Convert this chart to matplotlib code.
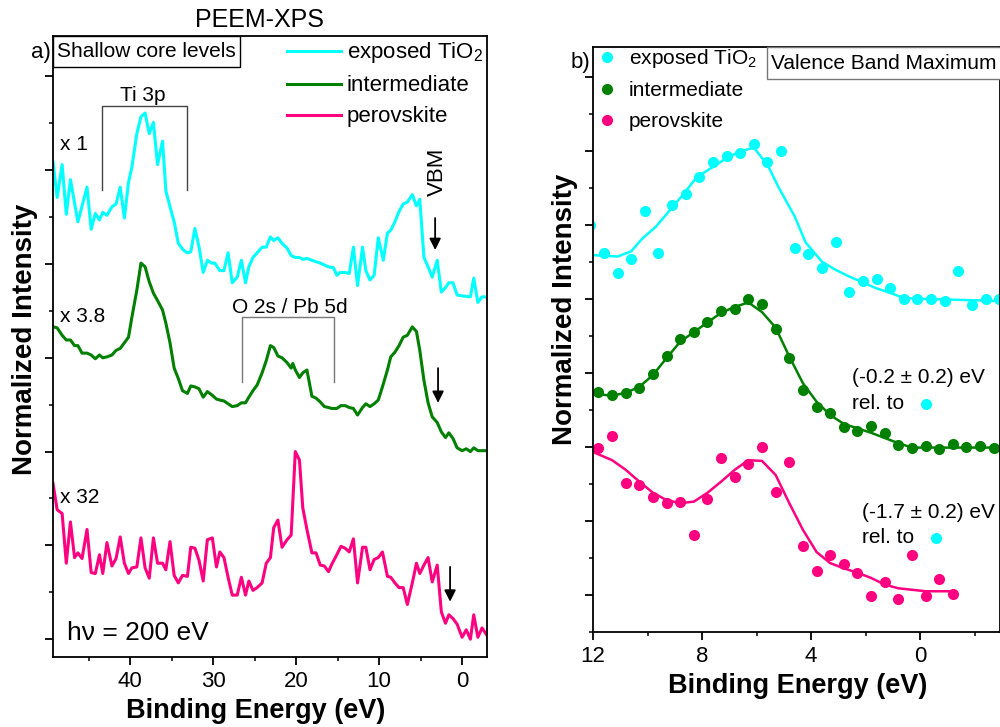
from matplotlib import pyplot as plt
from matplotlib.patches import Rectangle
from matplotlib.ticker import MultipleLocator

plt.rcParams['font.family'] = ['Liberation Sans', 'DejaVu Sans']
plt.rcParams['mathtext.fontset'] = 'custom'
plt.rcParams['mathtext.rm'] = 'Liberation Sans'
plt.rcParams['mathtext.it'] = 'Liberation Sans:italic'
plt.rcParams['mathtext.bf'] = 'Liberation Sans:bold'

CYAN = '#00FFFF'
GREEN = '#008000'
PINK = '#FF0080'

# ---- panel a) shallow core levels (binding energy in eV, offset intensity)
tio2_e = [49.3, 48.8, 48.2, 47.7, 47.2, 46.3, 45.2, 44.7, 44.2, 43.7, 43.3, 42.8, 42.2, 41.7, 41.2,
          40.7, 40.2, 39.8, 39.2, 38.7, 38.2, 37.7, 37.2, 36.7, 36.1, 35.7, 35.2, 34.7, 34.2, 33.6,
          33.1, 32.7, 32.2, 31.7, 31.2, 30.7, 30.2, 29.8, 29.2, 28.7, 28.2, 27.7, 27.1, 26.6, 26.1,
          25.7, 25.2, 24.1, 23.6, 23.1, 22.7, 22.2, 21.7, 21.1, 20.6, 20.1, 19.6, 19.2, 18.7, 18.1,
          17.1, 16.1, 15.5, 15.1, 14.7, 14.1, 13.6, 13.1, 12.6, 12.0, 11.6, 11.1, 10.6, 10.1, 9.5,
          9.0, 8.6, 8.1, 7.6, 7.1, 6.6, 6.0, 5.5, 5.1, 4.6, 4.1, 3.6, 3.0, 2.5, 2.0,
          1.6, 1.1, 0.6, 0.0, -1.0, -1.4, -1.9, -2.4, -3.0]
tio2_i = [5.09, 4.71, 5.06, 4.53, 4.90, 4.45, 4.82, 4.37, 4.54, 4.47, 4.55, 4.52, 4.61, 4.64, 4.82,
          4.49, 4.87, 5.03, 5.39, 5.57, 5.61, 5.39, 5.51, 5.06, 5.31, 4.78, 4.61, 4.45, 4.22, 4.15,
          4.12, 4.13, 4.38, 4.18, 3.91, 4.04, 4.01, 4.01, 3.93, 3.93, 4.12, 3.80, 3.86, 4.04, 3.80,
          3.97, 4.07, 4.18, 4.18, 4.29, 4.25, 4.28, 4.22, 4.17, 4.09, 4.07, 4.07, 4.05, 4.06, 4.04,
          4.01, 3.97, 3.96, 3.88, 3.91, 3.91, 3.90, 4.18, 3.77, 4.18, 3.93, 3.83, 3.88, 4.28, 4.04,
          4.33, 4.36, 4.45, 4.56, 4.64, 4.66, 4.74, 4.62, 4.69, 4.07, 3.97, 3.86, 4.04, 3.70, 3.75,
          3.80, 3.80, 3.67, 3.66, 3.65, 3.85, 3.59, 3.65, 3.65]

inter_e = [49.3, 48.8, 48.2, 47.7, 47.2, 46.7, 46.3, 45.8, 45.2, 44.7, 44.2, 43.7, 43.3, 42.8, 42.2,
           41.7, 41.2, 40.7, 40.2, 39.8, 39.2, 38.7, 38.2, 37.7, 37.2, 36.7, 36.1, 35.7, 35.2, 34.7,
           34.2, 33.7, 33.1, 32.7, 32.2, 31.7, 31.2, 30.7, 30.1, 29.6, 29.2, 28.7, 28.2, 27.7, 27.1,
           26.6, 26.1, 25.7, 25.2, 24.7, 24.1, 23.6, 23.1, 22.7, 22.2, 21.7, 21.1, 20.6, 20.4, 20.1,
           19.6, 19.2, 18.7, 18.1, 17.6, 17.1, 16.6, 16.1, 15.7, 15.1, 14.6, 14.1, 13.6, 13.1, 12.6,
           12.0, 11.6, 11.1, 10.6, 10.1, 9.6, 9.0, 8.6, 8.1, 7.6, 7.1, 6.6, 6.0, 5.5, 5.1,
           4.6, 4.1, 3.6, 3.0, 2.5, 2.0, 1.6, 1.1, 0.6, 0.0, -0.5, -1.0, -1.4, -1.9, -3.0]
inter_i = [3.33, 3.32, 3.24, 3.19, 3.19, 3.13, 3.13, 3.05, 3.05, 3.03, 2.99, 3.03, 3.00, 3.01, 3.03,
           3.08, 3.10, 3.16, 3.22, 3.43, 3.72, 4.01, 3.97, 3.81, 3.69, 3.61, 3.51, 3.37, 3.16, 2.89,
           2.78, 2.65, 2.62, 2.70, 2.69, 2.67, 2.58, 2.64, 2.60, 2.56, 2.55, 2.54, 2.51, 2.48, 2.49,
           2.52, 2.52, 2.58, 2.65, 2.71, 2.84, 2.97, 3.13, 3.11, 3.02, 3.00, 2.95, 2.89, 2.94, 2.87,
           2.79, 2.84, 2.87, 2.59, 2.57, 2.53, 2.48, 2.47, 2.46, 2.46, 2.49, 2.49, 2.47, 2.46, 2.39,
           2.47, 2.51, 2.48, 2.51, 2.55, 2.69, 2.87, 3.01, 3.06, 3.13, 3.22, 3.24, 3.33, 3.28, 3.08,
           2.76, 2.52, 2.37, 2.31, 2.21, 2.15, 2.20, 2.14, 2.04, 2.01, 2.03, 2.00, 2.04, 2.01, 2.01]

perov_e = [49.3, 48.8, 48.2, 47.7, 47.2, 46.7, 46.3, 45.8, 45.2, 44.7, 44.2, 43.7, 43.3, 42.8, 42.2,
           41.7, 41.2, 40.7, 40.2, 39.8, 39.2, 38.7, 38.2, 37.7, 37.2, 36.7, 36.1, 35.7, 35.2, 34.7,
           34.2, 33.7, 33.1, 32.7, 32.2, 31.7, 31.2, 30.7, 30.1, 29.6, 29.2, 28.7, 28.2, 27.7, 27.1,
           26.6, 26.1, 25.7, 25.2, 24.7, 24.1, 23.6, 23.1, 22.7, 22.2, 21.7, 21.1, 20.6, 20.1, 19.6,
           19.2, 18.7, 18.1, 17.6, 17.1, 16.6, 16.1, 15.7, 15.1, 14.6, 14.1, 13.6, 13.1, 12.6, 12.0,
           11.6, 11.1, 10.6, 10.1, 9.6, 9.0, 8.6, 8.1, 7.6, 7.1, 6.6, 6.0, 5.5, 5.1, 4.6,
           4.1, 3.6, 3.0, 2.5, 2.0, 1.6, 1.1, 0.6, 0.0, -0.5, -1.0, -1.4, -1.9, -2.4, -3.0]
perov_i = [1.66, 1.38, 1.34, 0.81, 1.25, 0.87, 0.92, 0.86, 1.17, 0.71, 0.70, 0.90, 0.70, 1.03, 0.78,
           0.86, 1.09, 0.81, 0.70, 0.76, 0.77, 1.08, 0.76, 0.65, 1.08, 0.81, 0.81, 0.74, 1.04, 0.68,
           0.60, 0.68, 0.67, 0.98, 0.97, 0.84, 0.62, 1.06, 1.08, 0.77, 0.93, 0.87, 0.66, 0.47, 0.47,
           0.66, 0.47, 0.62, 0.52, 0.55, 0.60, 0.81, 0.87, 1.19, 1.27, 0.98, 1.06, 1.11, 2.00, 1.91,
           1.40, 1.17, 0.92, 0.92, 0.79, 0.78, 0.72, 0.80, 0.90, 0.99, 0.97, 0.93, 1.07, 0.60, 0.98,
           0.98, 0.74, 0.85, 0.87, 0.93, 0.67, 0.66, 0.60, 0.55, 0.55, 0.37, 0.60, 0.81, 0.70, 0.79,
           0.87, 0.61, 0.79, 0.29, 0.17, 0.26, 0.22, 0.16, 0.02, 0.10, 0.00, 0.26, 0.02, 0.12, 0.04]

# annotation positions, panel a)
ti3p_bracket_e = [43.4, 43.4, 33.1, 33.1]
ti3p_bracket_i = [4.79, 5.68, 5.68, 4.79]
o2s_bracket_e = [26.5, 26.5, 15.4, 15.4]
o2s_bracket_i = [2.74, 3.43, 3.43, 2.74]
vbm_arrow_e = [3.25, 2.9, 1.45]
vbm_arrow_from = [4.52, 2.92, 0.80]
vbm_arrow_to = [4.12, 2.49, 0.37]
scale_labels = ['x 1', 'x 3.8', 'x 32']
scale_label_i = [5.27, 3.44, 1.51]

# ---- panel b) valence band maximum
tio2_vb_e = [12.1, 11.6, 11.1, 10.6, 10.1, 9.6, 9.1, 8.6, 8.1, 7.6, 7.1, 6.6, 6.1, 5.6, 5.1, 4.6,
             4.1, 3.6, 3.1, 2.6, 2.1, 1.6, 1.1, 0.6, 0.1, -0.4, -0.9, -1.4, -1.9, -2.4, -2.9]
tio2_vb_i = [4.99, 4.62, 4.35, 4.54, 5.18, 4.62, 5.26, 5.42, 5.64, 5.84, 5.93, 5.97, 6.09, 5.85, 6.00, 4.69,
             4.61, 4.42, 4.76, 4.09, 4.24, 4.26, 4.14, 4.00, 4.00, 4.00, 3.97, 4.38, 3.92, 4.00, 3.99]
tio2_fit_e = [12.0, 11.1, 10.6, 10.2, 9.7, 9.1, 8.6, 8.2, 7.6, 7.1, 6.6, 6.1, 5.6, 5.2, 4.6, 4.2,
              3.6, 3.1, 2.6, 2.1, 1.6, 1.1, 0.6, 0.1, -0.9, -2.9]
tio2_fit_i = [4.59, 4.57, 4.64, 4.81, 4.97, 5.23, 5.45, 5.64, 5.78, 5.90, 5.99, 6.04, 5.81, 5.51, 5.11, 4.76,
              4.50, 4.39, 4.30, 4.22, 4.14, 4.08, 4.01, 4.00, 3.99, 3.97]

inter_vb_e = [11.8, 11.3, 10.8, 10.3, 9.8, 9.3, 8.8, 8.3, 7.8, 7.3, 6.8, 6.3, 5.8, 5.3, 4.8,
              4.3, 3.8, 3.3, 2.8, 2.3, 1.8, 1.3, 0.8, 0.3, -0.2, -0.7, -1.2, -1.7, -2.2, -2.7]
inter_vb_i = [2.74, 2.70, 2.73, 2.80, 2.99, 3.23, 3.46, 3.55, 3.68, 3.84, 3.86, 3.99, 3.93, 3.59, 3.20,
              2.77, 2.54, 2.46, 2.27, 2.22, 2.28, 2.19, 2.03, 1.99, 2.01, 1.97, 2.04, 2.00, 2.01, 1.99]
inter_fit_e = [12.0, 11.3, 10.8, 10.3, 9.8, 9.3, 8.8, 8.3, 7.8, 7.3, 6.8, 6.3, 5.8, 5.3, 4.8, 4.3,
               3.8, 3.3, 2.8, 1.8, 0.8, 0.3, -2.9]
inter_fit_i = [2.72, 2.69, 2.73, 2.81, 2.97, 3.20, 3.42, 3.55, 3.68, 3.81, 3.89, 3.95, 3.82, 3.61, 3.22, 2.86,
               2.61, 2.43, 2.31, 2.19, 2.05, 1.99, 1.99]

perov_vb_e = [11.8, 11.3, 10.8, 10.3, 9.8, 9.3, 8.8, 8.3, 7.8, 7.3, 6.8, 6.3, 5.8, 5.3, 4.8,
              4.3, 3.8, 3.3, 2.8, 2.3, 1.8, 1.3, 0.8, 0.3, -0.2, -0.7, -1.2]
perov_vb_i = [1.99, 2.14, 1.51, 1.49, 1.32, 1.24, 1.26, 0.81, 1.30, 1.85, 1.59, 1.77, 2.00, 1.39, 1.80,
              0.66, 0.32, 0.54, 0.42, 0.30, -0.01, 0.18, -0.05, 0.54, -0.01, 0.22, 0.01]
perov_fit_e = [12.0, 11.3, 10.8, 10.3, 9.8, 9.3, 8.8, 8.3, 7.8, 7.3, 6.8, 6.3, 5.8, 5.3, 4.8, 4.3,
               3.8, 3.3, 2.8, 2.3, 1.8, 1.3, 0.8, 0.3, -0.2, -1.2]
perov_fit_i = [1.93, 1.82, 1.69, 1.53, 1.38, 1.28, 1.24, 1.26, 1.38, 1.53, 1.69, 1.82, 1.81, 1.62, 1.24, 0.88,
               0.58, 0.43, 0.36, 0.30, 0.23, 0.14, 0.09, 0.07, 0.05, 0.05]

shift_labels = ['(-0.2 ± 0.2) eV', '(-1.7 ± 0.2) eV']
shift_label_e = [2.51, 2.15]
shift_label_i = [2.93, 1.12]
rel_dot_e = [-0.23, -0.6]
rel_dot_i = [2.58, 0.77]


def style_axes(ax):
    for s in ax.spines.values():
        s.set_linewidth(1.3)
    ax.tick_params(which='major', direction='out', length=6, width=1.3, labelsize=16, pad=4)
    ax.tick_params(which='minor', direction='out', length=3, width=1.1)
    ax.tick_params(axis='y', labelleft=False)


fig = plt.figure(figsize=(10, 7.27), dpi=100)

# ================= panel a)
ax = fig.add_axes([0.053, 0.0963, 0.434, 0.854])
ax.plot(tio2_e, tio2_i, color=CYAN, lw=2.2, label='exposed TiO$_2$')
ax.plot(inter_e, inter_i, color=GREEN, lw=2.2, label='intermediate')
ax.plot(perov_e, perov_i, color=PINK, lw=2.2, label='perovskite')
ax.set_xlim(49.3, -3.0)
ax.set_ylim(-0.19, 6.43)
ax.xaxis.set_major_locator(MultipleLocator(10))
ax.xaxis.set_minor_locator(MultipleLocator(5))
ax.yaxis.set_major_locator(MultipleLocator(1))
ax.yaxis.set_minor_locator(MultipleLocator(0.5))
style_axes(ax)

ax.plot(ti3p_bracket_e, ti3p_bracket_i, color='#444444', lw=1)
ax.plot(o2s_bracket_e, o2s_bracket_i, color='#777777', lw=1)
ax.text(38.5, 5.80, 'Ti 3p', fontsize=15, ha='center', va='center')
ax.text(20.8, 3.54, 'O 2s / Pb 5d', fontsize=15, ha='center', va='center')
ax.text(3.0, 4.98, 'VBM', fontsize=16, rotation=90, ha='center', va='center')
for e, y0, y1 in zip(vbm_arrow_e, vbm_arrow_from, vbm_arrow_to):
    ax.annotate('', xy=(e, y1), xytext=(e, y0),
                arrowprops=dict(arrowstyle='-|>', color='black', lw=1.3, mutation_scale=17))
for lab, y in zip(scale_labels, scale_label_i):
    ax.text(48.4, y, lab, fontsize=15, ha='left', va='center')
ax.text(47.6, 0.07, 'h\u03bd = 200 eV', fontsize=19, ha='left', va='center')

ax.add_patch(Rectangle((0, 0.950), 0.431, 0.05, transform=ax.transAxes,
                       fc='white', ec='black', lw=1, zorder=5))
ax.text(0.215, 0.975, 'Shallow core levels', transform=ax.transAxes, fontsize=15,
        ha='center', va='center', zorder=6)
ax.text(-0.006, 0.974, 'a)', transform=ax.transAxes, fontsize=16, ha='right', va='center')
ax.text(0.475, 1.026, 'PEEM-XPS', transform=ax.transAxes, fontsize=18, ha='center', va='center')

ax.legend(loc='upper left', bbox_to_anchor=(0.539, 0.993), frameon=False, fontsize=16,
          handlelength=2.43, handletextpad=0.27, borderpad=0, borderaxespad=0, labelspacing=0.45)

ax.set_xlabel('Binding Energy (eV)', fontsize=19.5, fontweight='bold')
ax.xaxis.set_label_coords(0.468, -0.066)
ax.set_ylabel('Normalized Intensity', fontsize=20, fontweight='bold')
ax.yaxis.set_label_coords(-0.035, 0.512)

# ================= panel b)
ax2 = fig.add_axes([0.593, 0.1307, 0.407, 0.8047])
ax2.plot(tio2_fit_e, tio2_fit_i, color=CYAN, lw=1.8)
ax2.plot(inter_fit_e, inter_fit_i, color=GREEN, lw=1.8)
ax2.plot(perov_fit_e, perov_fit_i, color=PINK, lw=1.8)
ax2.plot(tio2_vb_e, tio2_vb_i, 'o', color=CYAN, ms=8, mec='none', label='exposed TiO$_2$')
ax2.plot(inter_vb_e, inter_vb_i, 'o', color=GREEN, ms=8, mec='none', label='intermediate')
ax2.plot(perov_vb_e, perov_vb_i, 'o', color=PINK, ms=8, mec='none', label='perovskite')
ax2.set_xlim(12, -2.93)
ax2.set_ylim(-0.5, 7.4)
ax2.xaxis.set_major_locator(MultipleLocator(4))
ax2.xaxis.set_minor_locator(MultipleLocator(2))
ax2.yaxis.set_major_locator(MultipleLocator(1))
ax2.yaxis.set_minor_locator(MultipleLocator(0.5))
style_axes(ax2)

for lab, e, y in zip(shift_labels, shift_label_e, shift_label_i):
    ax2.text(e, y, lab, fontsize=15, ha='left', va='center')
    ax2.text(e, y - 0.35, 'rel. to', fontsize=15, ha='left', va='center')
ax2.plot(rel_dot_e, rel_dot_i, 'o', color=CYAN, ms=8, mec='none', ls='none')

ax2.add_patch(Rectangle((0.4275, 0.945), 0.58, 0.055, transform=ax2.transAxes,
                        fc='white', ec='#777777', lw=1, zorder=5, clip_on=False))
ax2.text(0.437, 0.972, 'Valence Band Maximum', transform=ax2.transAxes, fontsize=15,
         ha='left', va='center', zorder=6)
ax2.text(-0.007, 0.974, 'b)', transform=ax2.transAxes, fontsize=16, ha='right', va='center')

ax2.legend(loc='upper left', bbox_to_anchor=(0.009, 1.0), frameon=False, fontsize=15,
           handlelength=1.0, handletextpad=0.55, borderpad=0, borderaxespad=0, labelspacing=0.55)

ax2.set_xlabel('Binding Energy (eV)', fontsize=19.5, fontweight='bold')
ax2.xaxis.set_label_coords(0.502, -0.070)
ax2.set_ylabel('Normalized Intensity', fontsize=20, fontweight='bold')
ax2.yaxis.set_label_coords(-0.037, 0.552)

fig.savefig('out.png', dpi=100)
